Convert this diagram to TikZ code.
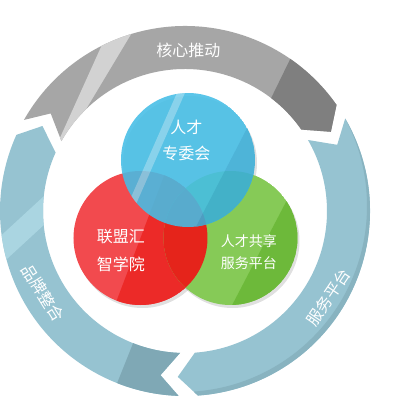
\documentclass[tikz,border=0pt]{standalone}
\usepackage{fontspec}
\newfontfamily\cjk{Noto Sans CJK SC}

\definecolor{graybase}{HTML}{A6A6A6}
\definecolor{graylight}{HTML}{D2D2D2}
\definecolor{graydark}{HTML}{7F7F7F}
\definecolor{bandbase}{HTML}{96C3D1}
\definecolor{bandlight}{HTML}{AAD5E1}
\definecolor{banddark}{HTML}{7FA8B5}
\definecolor{bandedge}{HTML}{88B3C0}
\definecolor{redlight}{HTML}{F24A4E}
\definecolor{reddark}{HTML}{EC2A28}
\definecolor{greenlight}{HTML}{86CA57}
\definecolor{greendark}{HTML}{6DB93A}
\definecolor{bluelight}{HTML}{45BEE6}
\definecolor{bluedark}{HTML}{3AAED8}
\definecolor{redgreen}{HTML}{E5241B}

\tikzset{
  ringtext/.style={text=white, inner sep=0pt, font=\cjk\fontsize{16}{18}\selectfont},
  circtext/.style={text=white, inner sep=0pt, align=center},
  circshadow/.style={fill=black, opacity=.12}
}

\begin{document}
\begin{tikzpicture}[x=1pt, y=1pt]
  %\draw[style=help lines] (-185, -189) grid[step=20] (215, 211);
	\fill [white] (-185, -189) rectangle (215, 211);
	\useasboundingbox (-185, -189) rectangle (215, 211);
	%Gray arrow (top)
	\begin{scope}
		\clip (150.5:185) arc [start angle=150.5, end angle=35, radius=185] -- (28.5:166)
			-- (35:142) arc [start angle=35, end angle=150.5, radius=142] -- (144:166) -- cycle;
		\fill [graybase] (-185, 0) rectangle (215, 211);
		\fill [graylight] (-61, 215) -- (-31, 215) -- (-136, 40) -- (-140, 40) -- cycle;
		\fill [graydark] (136, 215) -- (230, 215) -- (230, 0) -- (31, 0) -- cycle;
	\end{scope}
	%Blue arrow (right)
	\begin{scope}
		\clip (30:185) arc [start angle=30, end angle=-86, radius=185] -- (-92.5:166)
			-- (-86:142) arc [start angle=-86, end angle=30, radius=142] -- (23.5:166) -- cycle;
		\fill [bandbase] (-40, -195) rectangle (215, 120);
		\fill [bandedge, even odd rule] (0, 0) circle [radius=186] (-4, 5) circle [radius=186];
	\end{scope}
	%Blue arrow (left)
	\begin{scope}
		\clip (268:185) arc [start angle=268, end angle=155.7, radius=185] -- (149.2:166)
			-- (155.7:142) arc [start angle=155.7, end angle=268, radius=142] -- (261.5:166) -- cycle;
		\fill [bandbase] (-190, -195) rectangle (40, 120);
		\fill [bandlight] (-91, 61) -- (-205, -44) -- (-228, -94) -- (-114, 11) -- cycle;
		\fill [banddark] (-37, -95) -- (30, -95) -- (30, -195) -- (-77, -195) -- cycle;
	\end{scope}
	%Ring labels
	\node [ringtext] (hexin) at (3.5, 161) {核心推动};
	\node [ringtext, rotate=-58] (pinpai) at (-142, -82) {品牌整合};
	\node [ringtext, rotate=56] (fuwu) at (143.5, -86.5) {服务平台};
	%Shadows
	\fill [circshadow] (5, 48) circle [radius=67];
	\fill [circshadow] (-42.5, -30) circle [radius=67];
	\fill [circshadow] (47.5, -30) circle [radius=67];
	%Red circle
	\begin{scope}
		\clip (-44.5, -27) circle [radius=67];
		\fill [redlight] (-44.5, -27) circle [radius=67];
		\fill [reddark] (-18.5, 41.5) -- (60, 41.5) -- (60, -115) -- (-78, -115) -- cycle;
	\end{scope}
	%Green circle
	\begin{scope}
		\clip (45.5, -27) circle [radius=67];
		\fill [greenlight] (45.5, -27) circle [radius=67];
		\fill [greendark] (125.5, 56) -- (200, 56) -- (200, -124) -- (31.5, -124) -- cycle;
		\clip (-44.5, -27) circle [radius=67];
		\fill [redgreen] (45.5, -27) circle [radius=67];
	\end{scope}
	%Blue circle
	\begin{scope}[transparency group, opacity=.88]
		\clip (3, 51) circle [radius=67];
		\fill [bluelight] (3, 51) circle [radius=67];
		\fill [bluedark] (85, 127) -- (150, 127) -- (150, -35) -- (1, -35) -- cycle;
		\fill [white, opacity=.3] (-5, 125) -- (3, 125) -- (-52, 0) -- (-60, 0) -- cycle;
	\end{scope}
	%Circle labels
	\node [circtext, font=\cjk\fontsize{16}{26}\selectfont] (zhuanwei) at (1.5, 71) {人才\\专委会};
	\node [circtext, font=\cjk\fontsize{16}{28}\selectfont] (zhixue) at (-64, -40) {联盟汇\\智学院};
	\node [circtext, font=\cjk\fontsize{14}{22}\selectfont] (gongxiang) at (64, -41) {人才共享\\服务平台};
\end{tikzpicture}
\end{document}
